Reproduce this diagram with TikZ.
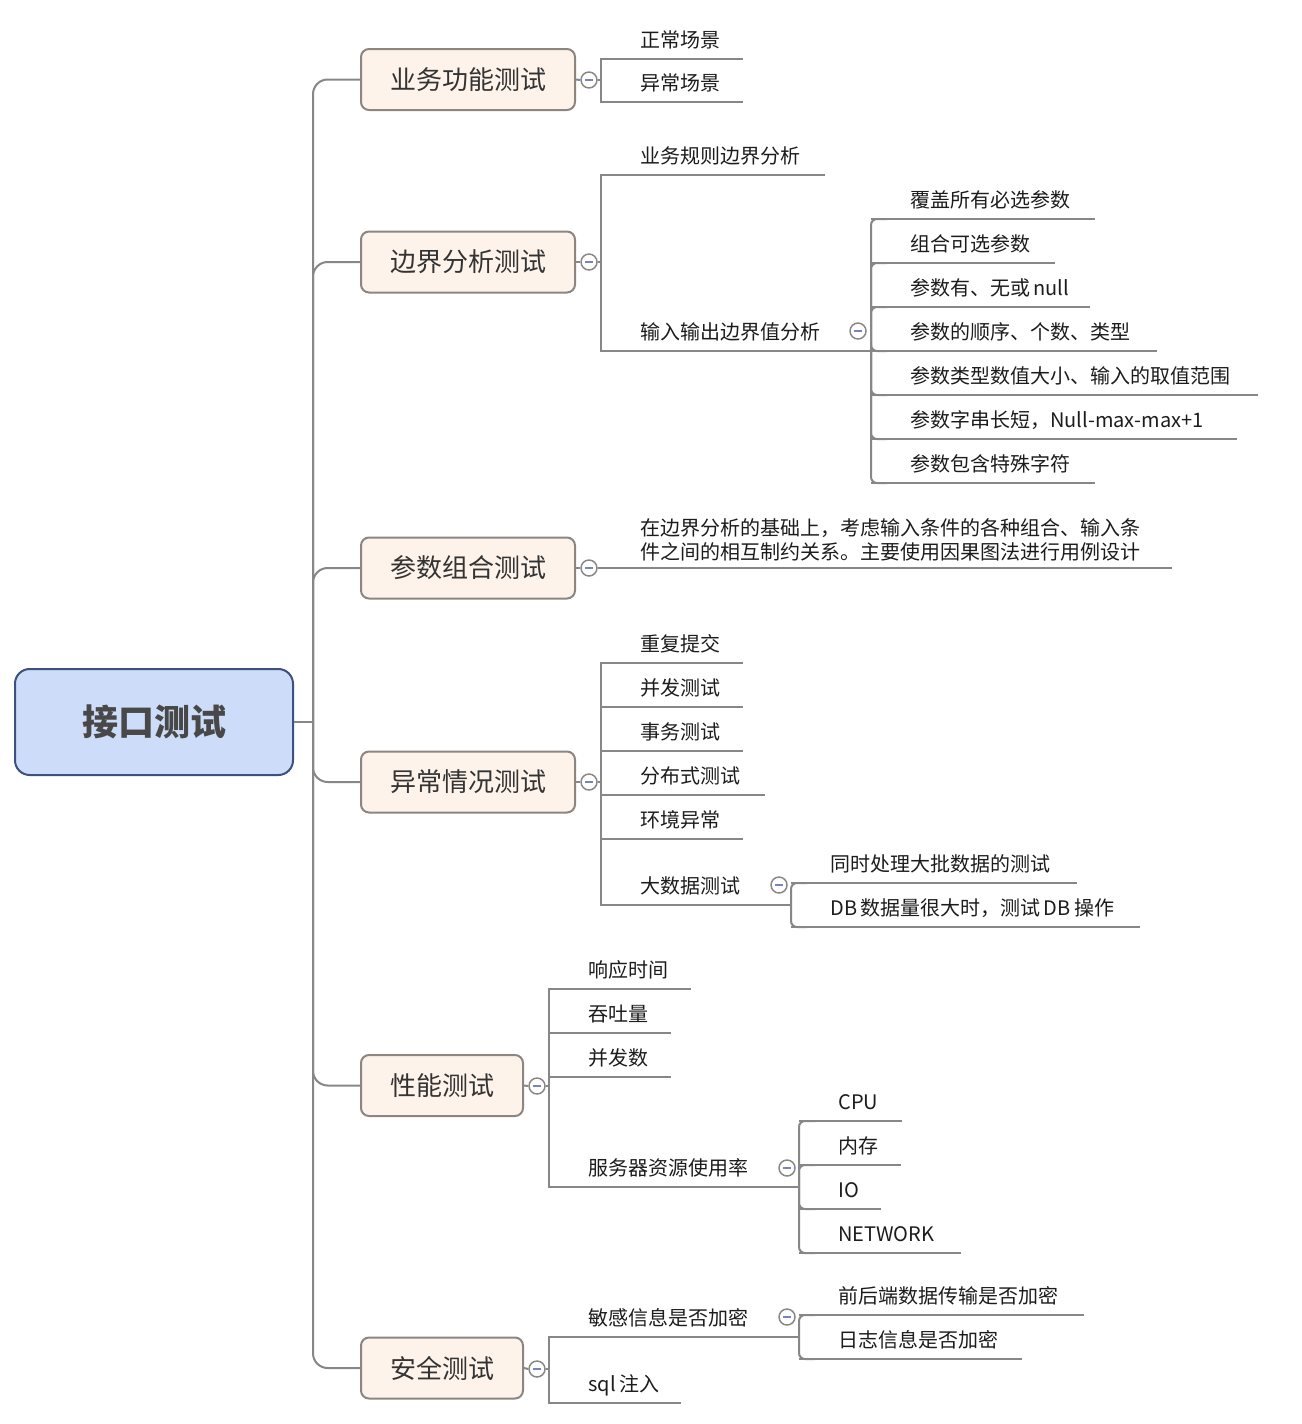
\documentclass[tikz,border=0pt]{standalone}
\usepackage{fontspec}
\setmainfont{Noto Sans CJK SC}
\usetikzlibrary{calc}
\definecolor{linec}{RGB}{135,135,135}
\definecolor{brfill}{RGB}{253,243,235}
\definecolor{brdraw}{RGB}{140,133,128}
\definecolor{rootfill}{RGB}{205,221,249}
\definecolor{rootdraw}{RGB}{62,80,128}
\definecolor{roottext}{RGB}{72,72,72}
\definecolor{brtext}{RGB}{51,51,51}
\definecolor{leaftext}{RGB}{28,28,28}
\definecolor{minusc}{RGB}{120,132,190}
\tikzset{
  conn/.style={draw=linec, line width=1.5pt},
  rootbox/.style={draw=rootdraw, fill=rootfill, line width=1.5pt, rounded corners=11pt,
    minimum width=208.5pt, minimum height=79.5pt, inner sep=0pt,
    font=\fontsize{27pt}{30pt}\selectfont\bfseries, text=roottext},
  brbox/.style={draw=brdraw, fill=brfill, line width=1.5pt, rounded corners=6pt,
    minimum height=45.75pt, inner sep=0pt,
    font=\fontsize{19.5pt}{22pt}\selectfont, text=brtext},
  widebox/.style={brbox, minimum width=160.5pt},
  narrowbox/.style={brbox, minimum width=121.5pt},
  leaf/.style={inner sep=0pt, font=\fontsize{15pt}{17.6pt}\selectfont, text=leaftext},
  toggle/.style={circle, draw=linec, fill=white, line width=1.1pt, minimum size=12pt, inner sep=0pt,
    path picture={\draw[minusc, line width=1.1pt]
      ([xshift=-3pt]path picture bounding box.center) -- ([xshift=3pt]path picture bounding box.center);}},
}
% #1 name, #2 x of column, #3 y of underline, #4 x where underline ends, #5 text
\newcommand\mmleaf[5]{%
  \coordinate (#1-s) at (#2,#3);
  \coordinate (#1-e) at (#4,#3);
  \node[leaf, anchor=base west] (#1) at (#2+39,#3-12) {#5};
  \draw[conn] (#1-s) -- (#1-e);
}
% #1 junction, #2 child name, #3 extra options
\newcommand\mmkid[3]{\draw[conn, #3] (#1) |- ($(#2-s)+(16,0)$);}
\begin{document}
\begin{tikzpicture}[x=0.75pt, y=-0.75pt]
\useasboundingbox (0,0) rectangle (1302,1424);

% root and branches
\node[rootbox] (root) at (154,722) {接口测试};
\node[widebox] (b1) at (468,79.5) {业务功能测试};
\node[widebox] (b2) at (468,262) {边界分析测试};
\node[widebox] (b3) at (468,568) {参数组合测试};
\node[widebox] (b4) at (468,782) {异常情况测试};
\node[narrowbox] (b5) at (442,1085.5) {性能测试};
\node[narrowbox] (b6) at (442,1368) {安全测试};

\coordinate (trunk) at (313,722);
\draw[conn] (root.east) -- (trunk);
\foreach \b in {b1,b2,b3,b4,b5,b6}{
  \draw[conn, rounded corners=11pt] (trunk) |- (\b.west);
}

% toggles of branches
\node[toggle] (t1) at (589,80) {};
\node[toggle] (t2) at (589,262) {};
\node[toggle] (t3) at (589,568) {};
\node[toggle] (t4) at (589,782) {};
\node[toggle] (t5) at (537,1086) {};
\node[toggle] (t6) at (537,1369) {};
\coordinate (j1) at (601,80);
\coordinate (j2) at (601,262);
\coordinate (j3) at (601,568);
\coordinate (j4) at (601,782);
\coordinate (j5) at (549,1086);
\coordinate (j6) at (549,1369);
\foreach \i in {1,...,6}{
  \draw[conn] (b\i.east) -- (t\i.west);
  \draw[conn] (t\i.east) -- (j\i);
}

% ---- 业务功能测试
\mmleaf{l11}{601}{59}{743}{正常场景}
\mmleaf{l12}{601}{102}{743}{异常场景}
\mmkid{j1}{l11}{}
\mmkid{j1}{l12}{}

% ---- 边界分析测试
\mmleaf{l21}{601}{175}{825}{业务规则边界分析}
\mmleaf{l22}{601}{351}{871}{输入输出边界值分析}
\mmkid{j2}{l21}{}
\mmkid{j2}{l22}{}
\node[toggle] (t22) at (858,331) {};
\coordinate (j22) at (871,351);
\mmleaf{l221}{871}{219}{1095}{覆盖所有必选参数}
\mmleaf{l222}{871}{263}{1055}{组合可选参数}
\mmleaf{l223}{871}{307}{1090}{参数有、无或\,null}
\mmleaf{l224}{871}{351}{1157}{参数的顺序、个数、类型}
\mmleaf{l225}{871}{395}{1258}{参数类型数值大小、输入的取值范围}
\mmleaf{l226}{871}{439}{1237}{参数字串长短，Null-max-max+1}
\mmleaf{l227}{871}{483}{1095}{参数包含特殊字符}
\foreach \k in {l221,l222,l223,l224,l225,l226,l227}{
  \mmkid{j22}{\k}{rounded corners=4.5pt}
}

% ---- 参数组合测试
\coordinate (l31-s) at (601,568);
\coordinate (l31-e) at (1172,568);
\node[leaf, anchor=west, align=left] (l31) at (640,540)
  {在边界分析的基础上，考虑输入条件的各种组合、输入条\\件之间的相互制约关系。主要使用因果图法进行用例设计};
\draw[conn] (l31-s) -- (l31-e);

% ---- 异常情况测试
\mmleaf{l41}{601}{663}{743}{重复提交}
\mmleaf{l42}{601}{707}{743}{并发测试}
\mmleaf{l43}{601}{751}{743}{事务测试}
\mmleaf{l44}{601}{795}{765}{分布式测试}
\mmleaf{l45}{601}{839}{743}{环境异常}
\mmleaf{l46}{601}{905}{790}{大数据测试}
\foreach \k in {l41,l42,l43,l44,l45,l46}{
  \mmkid{j4}{\k}{}
}
\node[toggle] (t46) at (779,885) {};
\coordinate (j46) at (791,905);
\mmleaf{l461}{791}{883}{1077}{同时处理大批数据的测试}
\mmleaf{l462}{791}{927}{1140}{DB\,数据量很大时，测试\,DB\,操作}
\mmkid{j46}{l461}{rounded corners=4.5pt}
\mmkid{j46}{l462}{rounded corners=4.5pt}

% ---- 性能测试
\mmleaf{l51}{549}{989}{691}{响应时间}
\mmleaf{l52}{549}{1033}{671}{吞吐量}
\mmleaf{l53}{549}{1077}{671}{并发数}
\mmleaf{l54}{549}{1187}{799}{服务器资源使用率}
\foreach \k in {l51,l52,l53,l54}{
  \mmkid{j5}{\k}{}
}
\node[toggle] (t54) at (787,1168) {};
\coordinate (j54) at (799,1187);
\mmleaf{l541}{799}{1121}{902}{CPU}
\mmleaf{l542}{799}{1165}{901}{内存}
\mmleaf{l543}{799}{1209}{881}{IO}
\mmleaf{l544}{799}{1253}{961}{NETWORK}
\foreach \k in {l541,l542,l543,l544}{
  \mmkid{j54}{\k}{rounded corners=4.5pt}
}

% ---- 安全测试
\mmleaf{l61}{549}{1337}{799}{敏感信息是否加密}
\mmleaf{l62}{549}{1403}{681}{sql\,注入}
\mmkid{j6}{l61}{}
\mmkid{j6}{l62}{}
\node[toggle] (t61) at (787,1317) {};
\coordinate (j61) at (799,1337);
\mmleaf{l611}{799}{1315}{1084}{前后端数据传输是否加密}
\mmleaf{l612}{799}{1359}{1022}{日志信息是否加密}
\mmkid{j61}{l611}{rounded corners=4.5pt}
\mmkid{j61}{l612}{rounded corners=4.5pt}
\end{tikzpicture}
\end{document}
